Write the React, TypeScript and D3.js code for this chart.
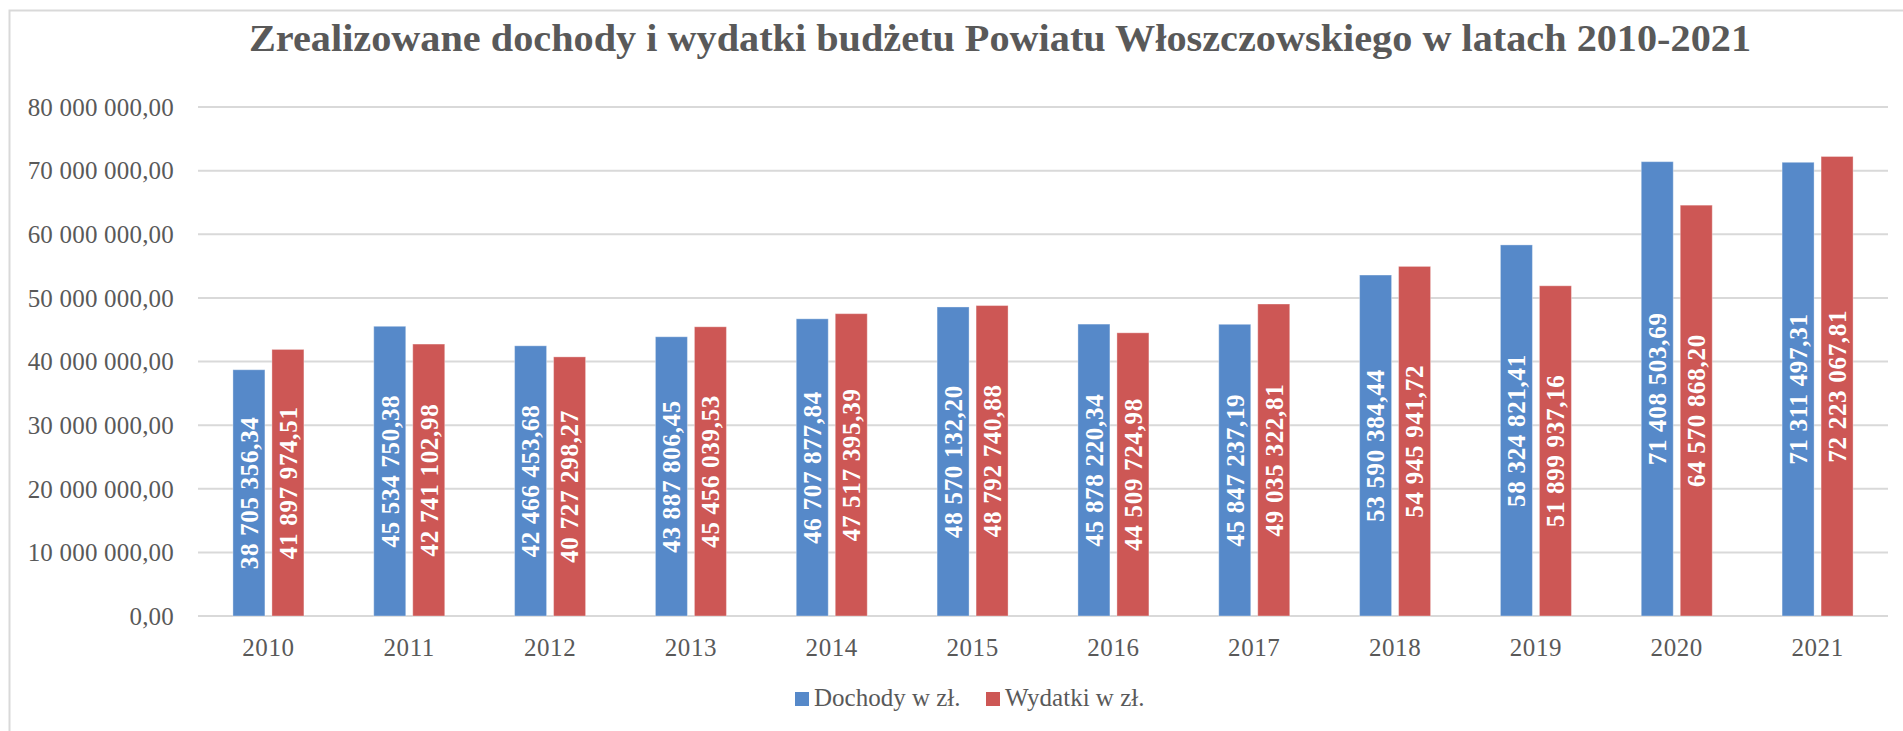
import React from "react";
import * as d3 from "d3";

const years = ["2010","2011","2012","2013","2014","2015","2016","2017","2018","2019","2020","2021"];
const dochody = [38705356.34,45534750.38,42466453.68,43887806.45,46707877.84,48570132.20,45878220.34,45847237.19,53590384.44,58324821.41,71408503.69,71311497.31];
const wydatki = [41897974.51,42741102.98,40727298.27,45456039.53,47517395.39,48792740.88,44509724.98,49035322.81,54945941.72,51899937.16,64570868.20,72223067.81];
const yTicks = [0,10000000,20000000,30000000,40000000,50000000,60000000,70000000,80000000];
const seriesNames = ["Dochody w zł.","Wydatki w zł."];
const colors = ["#5689C9","#CD5755"];
const title = "Zrealizowane dochody i wydatki budżetu Powiatu Włoszczowskiego w latach 2010-2021";

const locale = d3.formatLocale({ decimal: ",", thousands: " ", grouping: [3], currency: ["", ""] });
const fmt = locale.format(",.2f");

export default function App() {
  const W = 1903, H = 731;
  const x0 = 198, x1 = 1888, yBottom = 616, yTop = 107;
  const x = d3.scaleBand<string>().domain(years).range([x0, x1]).paddingInner(0).paddingOuter(0);
  const y = d3.scaleLinear().domain([0, 80000000]).range([yBottom, yTop]);
  const barW = 32, gap = 7;
  const inner = d3.scaleOrdinal<number, number>().domain([0, 1]).range([-(barW + gap / 2), gap / 2]);
  const series = [dochody, wydatki];
  const font = "'Liberation Serif', serif";
  const textColor = "#595959";
  return (
    <svg width={W} height={H} style={{ position: "absolute", left: 0, top: 0, background: "#fff" }} fontFamily={font}>
      <rect x={9.5} y={10.5} width={W + 20} height={H + 20} fill="#fff" stroke="#D9D9D9" strokeWidth={2} />
      <text x={1000} y={51} textAnchor="middle" fontSize={37} fontWeight="bold" fill={textColor} textLength={1502} lengthAdjust="spacingAndGlyphs">{title}</text>
      {yTicks.map((t) => (
        <g key={t}>
          <line x1={x0} x2={x1} y1={y(t)} y2={y(t)} stroke="#D9D9D9" strokeWidth={2} />
          <text x={174} y={y(t)} dy="0.35em" textAnchor="end" fontSize={25} fill={textColor} letterSpacing={0.2}>{fmt(t)}</text>
        </g>
      ))}
      {years.map((yr) => (
        <text key={yr} x={(x(yr) as number) + x.bandwidth() / 2} y={656} textAnchor="middle" fontSize={25} fill={textColor} letterSpacing={0.6}>{yr}</text>
      ))}
      {series.map((vals, si) => (
        <g key={si}>
          {vals.map((v, i) => {
            const cx = (x(years[i]) as number) + x.bandwidth() / 2 + inner(si);
            const top = y(v);
            return (
              <g key={i}>
                <rect x={cx} y={top} width={barW} height={yBottom - top} fill={colors[si]} stroke="rgba(255,255,255,0.35)" strokeWidth={1} />
                <text transform={`translate(${cx + barW / 2},${(top + yBottom) / 2}) rotate(-90)`} textAnchor="middle" dy="0.35em" fontSize={25} fontWeight="bold" fill="#fff" letterSpacing={0.7}>{fmt(v)}</text>
              </g>
            );
          })}
        </g>
      ))}
      {seriesNames.map((n, i) => {
        const lx = i === 0 ? 795 : 986;
        return (
          <g key={n}>
            <rect x={lx} y={692} width={14} height={14} fill={colors[i]} />
            <text x={lx + 19} y={706} fontSize={25} fill={textColor}>{n}</text>
          </g>
        );
      })}
    </svg>
  );
}
